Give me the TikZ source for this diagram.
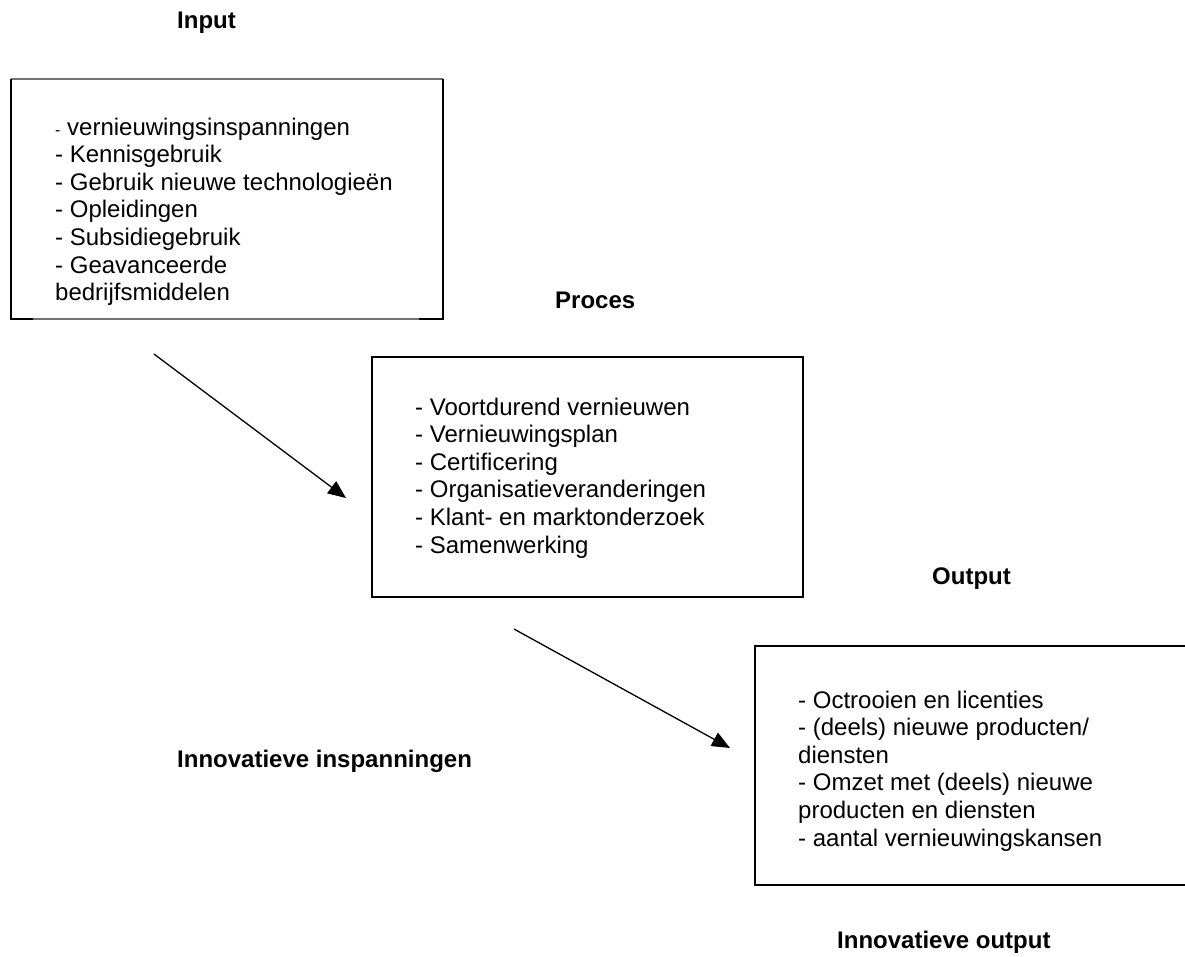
\documentclass[tikz,border=0pt]{standalone}
\usepackage{fontspec}
\setmainfont{Liberation Sans}
\usetikzlibrary{arrows.meta}
% stacked left-aligned lines; the baseline is that of the first line
\newcommand\itemlines[1]{\vtop{\halign{##\hfil\cr#1\crcr}}}
\begin{document}
\begin{tikzpicture}[x=1pt,y=-1pt,
  title/.style={font=\fontsize{24}{27.6}\selectfont\bfseries, anchor=base west, inner sep=0pt},
  body/.style={font=\fontsize{24}{27.6}\selectfont, anchor=base west, inner sep=0pt},
  frame/.style={line width=2pt, draw=black},
  soft frame/.style={line width=1.2pt, draw=black!55},
  flow/.style={line width=1.3pt, -{Triangle[length=18pt,width=15pt]}}]
\useasboundingbox (0,0) rectangle (1185,956);

% titles
\node[title] (tin)   at (177,28)  {Input};
\node[title] (tproc) at (555,308) {Proces};
\node[title] (tout)  at (932,584) {Output};
\node[title] (tinsp) at (177,767) {Innovatieve inspanningen};
\node[title] (toutp) at (837,948) {Innovatieve output};

% input box
\draw[soft frame] (11,79) -- (443,79);
\draw[soft frame] (33,319) -- (419,319);
\draw[frame] (33,319) -- (11,319) -- (11,79);
\draw[frame] (419,319) -- (443,319) -- (443,79);
\node[body] (input) at (55,135) {\itemlines{%
  {\fontsize{16}{16}\selectfont -} vernieuwingsinspanningen\cr
  - Kennisgebruik\cr
  - Gebruik nieuwe technologieën\cr
  - Opleidingen\cr
  - Subsidiegebruik\cr
  - Geavanceerde\cr
  bedrijfsmiddelen}};

% process box
\draw[frame] (372,357) rectangle (803,597);
\node[body] (proces) at (415,415) {\itemlines{%
  - Voortdurend vernieuwen\cr
  - Vernieuwingsplan\cr
  - Certificering\cr
  - Organisatieveranderingen\cr
  - Klant- en marktonderzoek\cr
  - Samenwerking}};

% output box (open to the right)
\draw[frame] (1195,646) -- (755,646) -- (755,885) -- (1195,885);
\node[body] (output) at (798,708) {\itemlines{%
  - Octrooien en licenties\cr
  - (deels) nieuwe producten/\cr
  diensten\cr
  - Omzet met (deels) nieuwe\cr
  producten en diensten\cr
  - aantal vernieuwingskansen}};

% flow arrows
\coordinate (a1s) at (154,354);
\coordinate (a1e) at (346,498);
\coordinate (a2s) at (514,629);
\coordinate (a2e) at (730,748);
\draw[flow] (a1s) -- (a1e);
\draw[flow] (a2s) -- (a2e);
\end{tikzpicture}
\end{document}
